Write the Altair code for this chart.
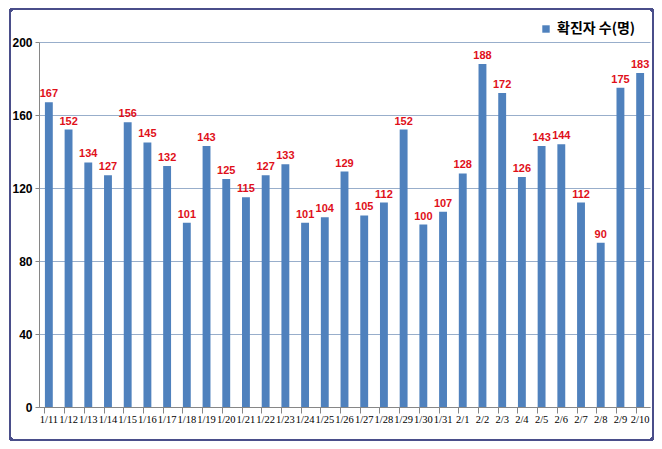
import altair as alt
import pandas as pd

dates = ["1/11", "1/12", "1/13", "1/14", "1/15", "1/16", "1/17", "1/18", "1/19", "1/20",
         "1/21", "1/22", "1/23", "1/24", "1/25", "1/26", "1/27", "1/28", "1/29", "1/30",
         "1/31", "2/1", "2/2", "2/3", "2/4", "2/5", "2/6", "2/7", "2/8", "2/9", "2/10"]
cases = [167, 152, 134, 127, 156, 145, 132, 101, 143, 125,
         115, 127, 133, 101, 104, 129, 105, 112, 152, 100,
         107, 128, 188, 172, 126, 143, 144, 112, 90, 175, 183]
series_name = "확진자 수(명)"
y_ticks = [0, 40, 80, 120, 160, 200]

df = pd.DataFrame({"date": dates, "cases": cases, "series": series_name})

PL, PT = 31, 34
PW, PH = 611, 365

xscale = alt.Scale(domain=dates, paddingInner=0.6, paddingOuter=0.3)
yscale = alt.Scale(domain=[0, 200], nice=False)
yaxis = alt.Axis(values=y_ticks, labelFont="Liberation Sans", labelFontSize=12,
                 labelFontWeight="bold", labelColor="#000000", labelPadding=3,
                 grid=True, gridColor="#98AECB", gridWidth=1,
                 domain=True, domainColor="#868686", tickColor="#868686", tickSize=4)

bars = alt.Chart(df).mark_bar(color="#4F81BD").encode(
    x=alt.X("date:N", sort=dates, scale=xscale, title=None,
            axis=alt.Axis(orient="bottom", labelAngle=0, labelFont="Liberation Sans Narrow",
                          labelFontSize=10.5, labelColor="#000000", ticks=False, domain=True,
                          domainColor="#868686", labelPadding=7)),
    y=alt.Y("cases:Q", scale=yscale, title=None, axis=yaxis),
    color=alt.Color("series:N", scale=alt.Scale(domain=[series_name], range=["#4F81BD"]),
                    legend=alt.Legend(title=None, orient="none", legendX=500, legendY=-20,
                                      symbolType="square", symbolSize=55,
                                      labelFont="Noto Sans CJK KR", labelFontSize=14,
                                      labelFontWeight="bold", labelColor="#000000")),
)

ticks_layer = alt.Chart(df).mark_tick(opacity=0).encode(
    x=alt.X("date:N", sort=dates, scale=xscale, title=None,
            axis=alt.Axis(orient="bottom", labels=False, ticks=True, bandPosition=0,
                          tickColor="#868686", tickSize=6, domain=False, grid=False,
                          title=None)),
    y=alt.Y("cases:Q", scale=yscale, title=None, axis=yaxis),
)

labels = alt.Chart(df).mark_text(
    color="#E0101A", font="Liberation Sans", fontSize=11, fontWeight="bold",
    baseline="bottom", dy=-3,
).encode(
    x=alt.X("date:N", sort=dates, scale=xscale, axis=None),
    y=alt.Y("cases:Q", scale=yscale, title=None, axis=yaxis),
    text="cases:Q",
)

border = alt.Chart(df).mark_rect(
    fill=None, stroke="#4A4E8A", strokeWidth=2, cornerRadius=3, clip=False
).encode(
    x=alt.value(-PL + 2), x2=alt.value(PW + 3),
    y=alt.value(-PT + 1), y2=alt.value(PH + 33),
)

chart = alt.layer(bars, labels, border, ticks_layer).resolve_axis(x="independent").properties(
    width=PW, height=PH,
    autosize=alt.AutoSizeParams(type="none"),
    padding={"left": PL, "top": PT, "right": 4, "bottom": 34},
    background="#FFFFFF",
).configure_view(stroke=None)

chart.save("out.html", embed_options={"renderer": "svg", "actions": False})
